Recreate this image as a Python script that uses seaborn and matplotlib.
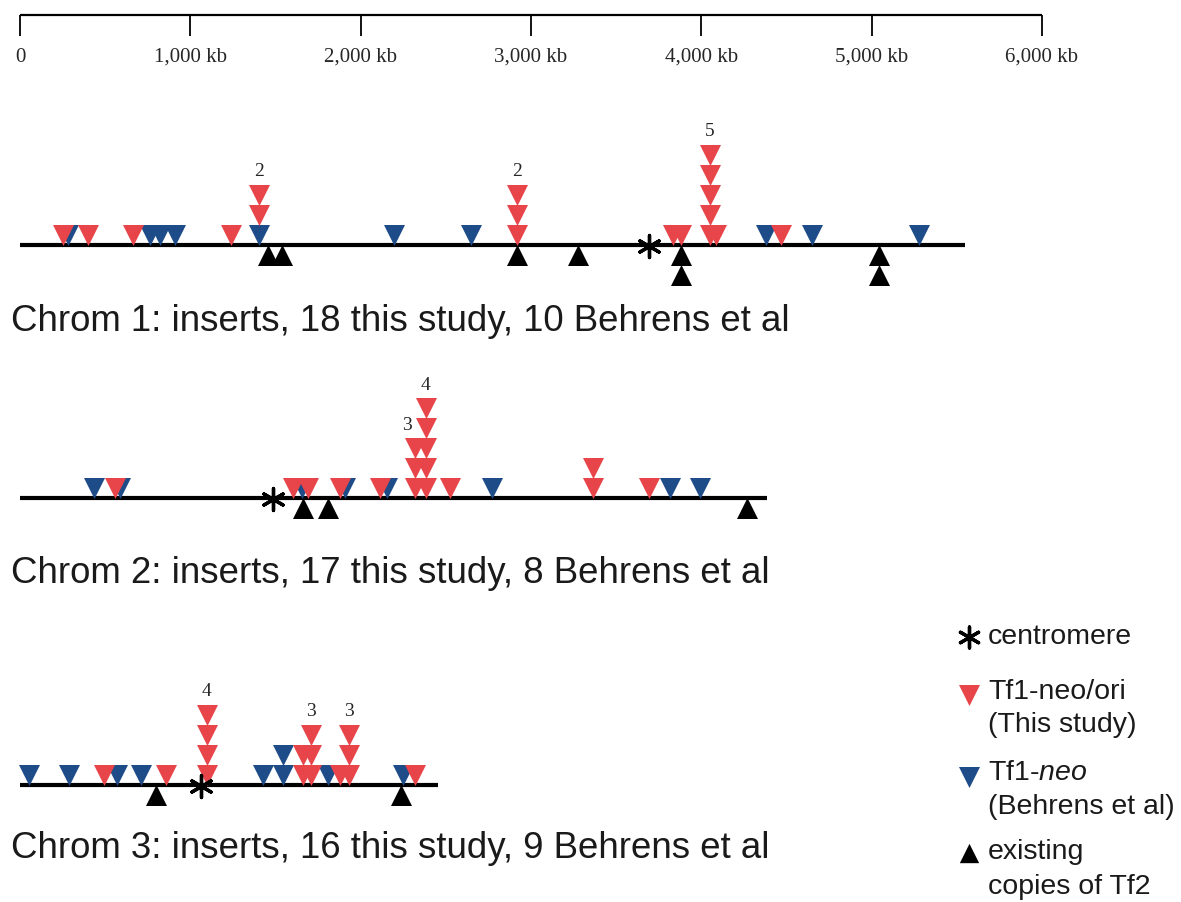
import matplotlib
matplotlib.use('Agg')
import pandas as pd
import matplotlib.pyplot as plt
import seaborn as sns

# positions along each chromosome in kb
chrom_length = [5549, 4386, 2455]
centromere_kb = [3693, 1486, 1063]
this_study_n = [18, 17, 16]
behrens_n = [10, 8, 9]

# Tf1-neo/ori inserts (this study)
red_kb = [
    [252, 399, 663, 1239, 1403, 1403, 2918, 2918, 2918, 3834, 3881,
     4052, 4052, 4052, 4052, 4052, 4087, 4469],
    [558, 1603, 1691, 1879, 2114, 2319, 2319, 2319, 2384, 2384, 2384, 2384,
     2384, 2525, 3365, 3365, 3693],
    [493, 857, 1098, 1098, 1098, 1098, 1662, 1662, 1709, 1709, 1709, 1879,
     1932, 1932, 1932, 2319],
]
# Tf1-neo inserts (Behrens et al)
blue_kb = [
    [282, 763, 822, 910, 1403, 2196, 2648, 4380, 4651, 5279],
    [435, 587, 1656, 1908, 2155, 2772, 3817, 3993],
    [53, 288, 570, 711, 1427, 1544, 1544, 1809, 2249],
]
# existing copies of Tf2
tf2_kb = [
    [1456, 1538, 2918, 3277, 3880, 3880, 5044, 5044],
    [1662, 1809, 4269],
    [799, 2237],
]
# numbers written over the stacks
stack_label_kb = [[1403, 2918, 4052], [2319, 2384], [1098, 1709, 1932]]
stack_label_txt = [['2', '2', '5'], ['3', '4'], ['4', '3', '3']]

scale_kb = [0, 1000, 2000, 3000, 4000, 5000, 6000]
scale_labels = ['0'] + [f'{k:,} kb' for k in scale_kb[1:]]

# layout (pixels)
W, H = 1181, 902
PX_PER_KB = 0.1703
X0 = 20
line_y = [245, 498, 785]
title_y = [331, 583, 858]
label_dx = [[0, 0, 0], [-8, 0], [0, 0, 0]]
TRI = 20          # stacking step in px
TRI_SIZE = 21     # drawn triangle size in px
RED = '#E8454A'
BLUE = '#1D4C88'


def kb(px):
    return (px - X0) / PX_PER_KB


def stack_rows(values):
    seen, rows = {}, []
    for v in values:
        rows.append(seen.get(v, 0))
        seen[v] = seen.get(v, 0) + 1
    return rows


sns.set_style('white')
plt.rcParams['font.family'] = ['Liberation Sans', 'DejaVu Sans']
plt.rcParams['mathtext.fontset'] = 'custom'
plt.rcParams['mathtext.rm'] = 'Liberation Sans'
plt.rcParams['mathtext.it'] = 'Liberation Sans:italic'

fig = plt.figure(figsize=(W / 100, H / 100), dpi=100)
ax = fig.add_axes([0, 0, 1, 1])
ax.set_xlim(kb(0), kb(W))
ax.set_ylim(H, 0)
ax.axis('off')

tri_s = (TRI_SIZE * 0.72) ** 2

# scale bar
ax.plot([0, 6000], [15, 15], color='black', lw=1.6, solid_capstyle='butt')
ax.vlines(scale_kb, 15, 36, color='black', lw=1.3)
for k, lab in zip(scale_kb, scale_labels):
    ax.text(k, 57, lab, ha='center', va='center', fontsize=15,
            family='Liberation Serif')

for i in range(3):
    y0 = line_y[i]
    ax.plot([0, chrom_length[i]], [y0, y0], color='black', lw=3,
            solid_capstyle='butt', zorder=1)

    # inserts stack above the line, blue ones first
    ins = pd.DataFrame({
        'kb': blue_kb[i] + red_kb[i],
        'kind': ['blue'] * len(blue_kb[i]) + ['red'] * len(red_kb[i]),
    })
    ins['row'] = stack_rows(list(ins['kb']))
    ins['y'] = y0 - TRI / 2 - TRI * ins['row']
    for kind, col in [('blue', BLUE), ('red', RED)]:
        d = ins[ins['kind'] == kind]
        sns.scatterplot(data=d, x='kb', y='y', marker='v', color=col,
                        s=tri_s, linewidth=0, ax=ax, zorder=3)

    tf2 = pd.DataFrame({'kb': tf2_kb[i]})
    tf2['row'] = stack_rows(tf2_kb[i])
    tf2['y'] = y0 + TRI / 2 + TRI * tf2['row']
    sns.scatterplot(data=tf2, x='kb', y='y', marker='^', color='black',
                    s=tri_s, linewidth=0, ax=ax, zorder=2)

    sns.scatterplot(x=[centromere_kb[i]], y=[y0 + 1], marker=(6, 2, 0),
                    color='black', s=(22 * 0.72) ** 2, linewidth=2.4,
                    ax=ax, zorder=4)

    for k, txt, dx in zip(stack_label_kb[i], stack_label_txt[i], label_dx[i]):
        top = ins.loc[ins['kb'] == k, 'row'].max() + 1
        ax.text(k + dx / PX_PER_KB, y0 - TRI * top - 13, txt, ha='center',
                va='center', fontsize=14, family='Liberation Serif')

    ax.text(kb(11), title_y[i],
            f'Chrom {i + 1}: inserts, {this_study_n[i]} this study, '
            f'{behrens_n[i]} Behrens et al',
            ha='left', va='baseline', fontsize=26.4, color='#1a1a1a')

# legend
lx, tx = kb(969), kb(988)
ax.scatter([lx], [637], marker=(6, 2, 0), color='black', s=(21 * 0.72) ** 2,
           linewidths=2.4)
ax.scatter([lx], [695], marker='v', color=RED, s=tri_s, linewidths=0)
ax.scatter([lx], [777], marker='v', color=BLUE, s=tri_s, linewidths=0)
ax.scatter([lx], [853], marker='^', color='black', s=tri_s * 0.85, linewidths=0)
legend_lines = [(637, 'centromere'), (692, 'Tf1-neo/ori'), (725, '(This study)'),
                (773, r'Tf1-$\it{neo}$'), (807, '(Behrens et al)'),
                (852, 'existing'), (887, 'copies of Tf2')]
for y, txt in legend_lines:
    ax.text(tx, y, txt, ha='left', va='center', fontsize=20.5, color='#1a1a1a')

fig.savefig('out.png', dpi=100)
